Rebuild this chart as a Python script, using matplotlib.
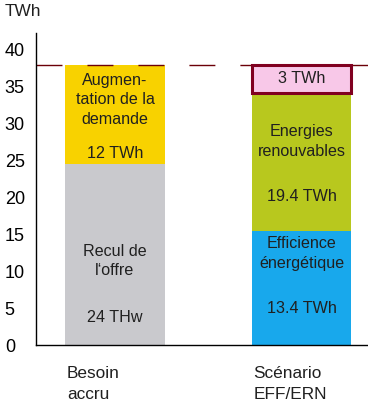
import matplotlib.pyplot as plt

plt.rcParams['font.family'] = ['Liberation Sans', 'DejaVu Sans']

# stacked segments, bottom to top
besoin_labels = ['Recul de\nl\u2018offre', 'Augmen-\ntation de la\ndemande']
besoin_values = [24.5, 13.5]
besoin_texts = ['24 THw', '12 TWh']

scenario_labels = ['Efficience\n\u00e9nerg\u00e9tique', 'Energies\nrenouvables', '']
scenario_values = [15.5, 18.7, 3.8]
scenario_texts = ['13.4 TWh', '19.4 TWh', '3 TWh']

categories = ['Besoin\naccru', 'Sc\u00e9nario\nEFF/ERN']
target = 38

fig = plt.figure(figsize=(3.68, 4.05), dpi=100)
ax = fig.add_axes([36 / 368, 60 / 405, 332 / 368, 312 / 405])

width = 0.536
txt = '#202020'
fs = 11.6

# (label y fraction, value y fraction) inside each segment
besoin_colors = ['#c9c9cd', '#f8d200']
besoin_pos = [(0.465, 0.15), (0.65, 0.105)]
bottom = 0
for lab, v, t, c, (fl, fv) in zip(besoin_labels, besoin_values, besoin_texts,
                                  besoin_colors, besoin_pos):
    ax.bar(0, v, width, bottom=bottom, color=c, linewidth=0)
    ax.text(0, bottom + fl * v, lab, ha='center', va='center', fontsize=fs,
            color=txt, linespacing=1.38)
    ax.text(0, bottom + fv * v, t, ha='center', va='center', fontsize=fs, color=txt)
    bottom += v

scen_colors = ['#18a8ec', '#b8c81e', '#f8c8e8']
scen_pos = [(0.80, 0.315), (0.645, 0.25), (0.5, 0.5)]
bottom = 0
for i, (lab, v, t, c, (fl, fv)) in enumerate(zip(scenario_labels, scenario_values,
                                                 scenario_texts, scen_colors, scen_pos)):
    if i == 2:
        ax.bar(1, v, width, bottom=bottom, color=c, edgecolor='#800020',
               linewidth=2.2, zorder=3)
    else:
        ax.bar(1, v, width, bottom=bottom, color=c, linewidth=0)
    if lab:
        ax.text(1, bottom + fl * v, lab, ha='center', va='center', fontsize=fs,
                color=txt, linespacing=1.38, zorder=4)
    ax.text(1, bottom + fv * v, t, ha='center', va='center', fontsize=fs,
            color=txt, zorder=4)
    bottom += v

ax.axhline(target, color='#6b0008', linewidth=1.0, dashes=(18.7, 18), zorder=2)

ax.set_xlim(-0.4236, 1.3566)
ax.set_ylim(0, 42.3)
ax.set_yticks(range(0, 45, 5))
ax.tick_params(axis='y', length=0, pad=22.5, labelsize=13)
for lbl in ax.get_yticklabels():
    lbl.set_horizontalalignment('left')
ax.set_xticks([])

for x, cat in zip([0, 1], categories):
    ax.text(x - width / 2 + 0.01, -2.9, cat, ha='left', va='top', fontsize=12.4,
            color=txt, linespacing=1.45)

ax.spines['top'].set_visible(False)
ax.spines['right'].set_visible(False)
ax.spines['left'].set_linewidth(1.0)
ax.spines['bottom'].set_linewidth(1.0)

fig.text(5 / 368, 1 - 12 / 405, 'TWh', ha='left', va='center', fontsize=12.4, color=txt)

fig.savefig('out.png', dpi=100)
